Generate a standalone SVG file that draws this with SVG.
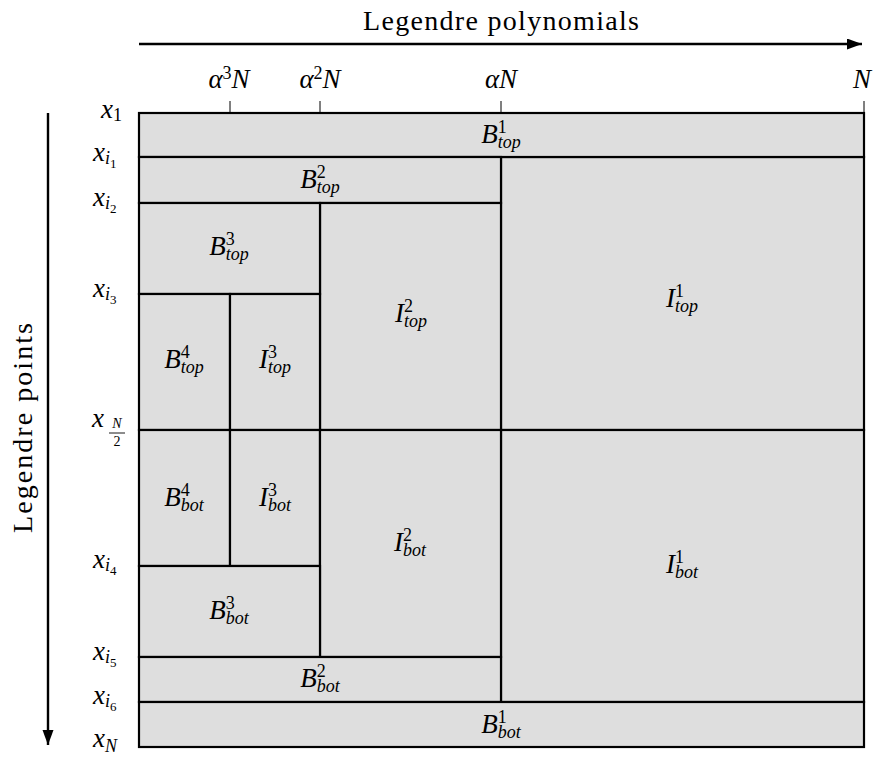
<svg xmlns="http://www.w3.org/2000/svg" width="876" height="758" viewBox="0 0 876 758" font-family="'Liberation Serif', 'Times New Roman', 'DejaVu Serif', serif">
<style>
text{font-family:'Liberation Serif','Times New Roman','DejaVu Serif',serif;fill:#000}
.t{font-size:28px}
.m{font-size:27px;font-style:italic;text-anchor:middle}
.ml{font-size:27px;font-style:italic}
.s{font-size:18px}
.n{font-style:normal}
.ss{font-size:13px;font-style:normal}
.cell{fill:#dedede;stroke:#000;stroke-width:2.2}
.ax{stroke:#000;stroke-width:2.4;fill:none}
.tick{stroke:#000;stroke-width:1}
</style>
<defs>
<marker id="ah" markerWidth="16" markerHeight="12" refX="15" refY="5.5" orient="auto" markerUnits="userSpaceOnUse">
<path d="M0,0 L15,5.5 L0,11 Z" fill="#000"/>
</marker>
</defs>

<g id="connectors">
<line class="ax" x1="139" y1="44" x2="862" y2="44" marker-end="url(#ah)"/>
<line class="ax" x1="48" y1="113" x2="48" y2="745" marker-end="url(#ah)"/>
<line class="tick" x1="230" y1="101" x2="230" y2="113"/>
<line class="tick" x1="320" y1="101" x2="320" y2="113"/>
<line class="tick" x1="501" y1="101" x2="501" y2="113"/>
<line class="tick" x1="864" y1="101" x2="864" y2="113"/>
</g>

<g id="axis-labels">
<text class="t" x="501" y="30" text-anchor="middle" textLength="276" lengthAdjust="spacing">Legendre polynomials</text>
<text class="t" transform="translate(32,428) rotate(-90)" x="0" y="0" text-anchor="middle" textLength="210" lengthAdjust="spacing">Legendre points</text>
<text class="m" x="229" y="88">α<tspan class="s n" dy="-9">3</tspan><tspan dy="9">N</tspan></text>
<text class="m" x="320" y="88">α<tspan class="s n" dy="-9">2</tspan><tspan dy="9">N</tspan></text>
<text class="m" x="501" y="88">αN</text>
<text class="m" x="862" y="88">N</text>
</g>

<g id="row-labels">
<text class="ml" x="101" y="118">x<tspan class="s n" dy="3">1</tspan></text>
<text class="ml" x="93" y="161">x<tspan class="s" dy="3">i</tspan><tspan class="ss" dy="4">1</tspan></text>
<text class="ml" x="93" y="206">x<tspan class="s" dy="3">i</tspan><tspan class="ss" dy="4">2</tspan></text>
<text class="ml" x="93" y="297">x<tspan class="s" dy="3">i</tspan><tspan class="ss" dy="4">3</tspan></text>
<g id="xhalf">
<text class="ml" x="92" y="427">x</text>
<text x="117" y="428" font-size="14" font-style="italic" text-anchor="middle">N</text>
<line x1="109" y1="433" x2="125" y2="433" stroke="#000" stroke-width="0.9"/>
<text x="117" y="446" font-size="14" text-anchor="middle">2</text>
</g>
<text class="ml" x="93" y="568">x<tspan class="s" dy="3">i</tspan><tspan class="ss" dy="4">4</tspan></text>
<text class="ml" x="93" y="660">x<tspan class="s" dy="3">i</tspan><tspan class="ss" dy="4">5</tspan></text>
<text class="ml" x="93" y="704">x<tspan class="s" dy="3">i</tspan><tspan class="ss" dy="4">6</tspan></text>
<text class="ml" x="93" y="747">x<tspan class="s" dy="5">N</tspan></text>
</g>

<g id="I1top"><rect class="cell" x="501" y="157" width="363" height="273"/>
<text class="m" x="682" y="307">I<tspan class="s n" dy="-10">1</tspan><tspan class="s" dx="-9" dy="15">top</tspan></text></g>
<g id="I1bot"><rect class="cell" x="501" y="430" width="363" height="272"/>
<text class="m" x="682" y="573">I<tspan class="s n" dy="-10">1</tspan><tspan class="s" dx="-9" dy="15">bot</tspan></text></g>
<g id="B1top"><rect class="cell" x="139" y="113" width="725" height="44"/>
<text class="m" x="501" y="143">B<tspan class="s n" dy="-10">1</tspan><tspan class="s" dx="-9" dy="15">top</tspan></text></g>
<g id="B2top"><rect class="cell" x="139" y="157" width="362" height="46"/>
<text class="m" x="320" y="188">B<tspan class="s n" dy="-10">2</tspan><tspan class="s" dx="-9" dy="15">top</tspan></text></g>
<g id="I2top"><rect class="cell" x="320" y="203" width="181" height="227"/>
<text class="m" x="411" y="322">I<tspan class="s n" dy="-10">2</tspan><tspan class="s" dx="-9" dy="15">top</tspan></text></g>
<g id="B3top"><rect class="cell" x="139" y="203" width="181" height="91"/>
<text class="m" x="229" y="255">B<tspan class="s n" dy="-10">3</tspan><tspan class="s" dx="-9" dy="15">top</tspan></text></g>
<g id="B4top"><rect class="cell" x="139" y="294" width="91" height="136"/>
<text class="m" x="184" y="368">B<tspan class="s n" dy="-10">4</tspan><tspan class="s" dx="-9" dy="15">top</tspan></text></g>
<g id="I3top"><rect class="cell" x="230" y="294" width="90" height="136"/>
<text class="m" x="275" y="368">I<tspan class="s n" dy="-10">3</tspan><tspan class="s" dx="-9" dy="15">top</tspan></text></g>
<g id="B4bot"><rect class="cell" x="139" y="430" width="91" height="136"/>
<text class="m" x="184" y="506">B<tspan class="s n" dy="-10">4</tspan><tspan class="s" dx="-9" dy="15">bot</tspan></text></g>
<g id="I3bot"><rect class="cell" x="230" y="430" width="90" height="136"/>
<text class="m" x="275" y="506">I<tspan class="s n" dy="-10">3</tspan><tspan class="s" dx="-9" dy="15">bot</tspan></text></g>
<g id="I2bot"><rect class="cell" x="320" y="430" width="181" height="227"/>
<text class="m" x="410" y="551">I<tspan class="s n" dy="-10">2</tspan><tspan class="s" dx="-9" dy="15">bot</tspan></text></g>
<g id="B3bot"><rect class="cell" x="139" y="566" width="181" height="91"/>
<text class="m" x="229" y="619">B<tspan class="s n" dy="-10">3</tspan><tspan class="s" dx="-9" dy="15">bot</tspan></text></g>
<g id="B2bot"><rect class="cell" x="139" y="657" width="362" height="45"/>
<text class="m" x="320" y="687">B<tspan class="s n" dy="-10">2</tspan><tspan class="s" dx="-9" dy="15">bot</tspan></text></g>
<g id="B1bot"><rect class="cell" x="139" y="702" width="725" height="45"/>
<text class="m" x="501" y="733">B<tspan class="s n" dy="-10">1</tspan><tspan class="s" dx="-9" dy="15">bot</tspan></text></g>
</svg>
